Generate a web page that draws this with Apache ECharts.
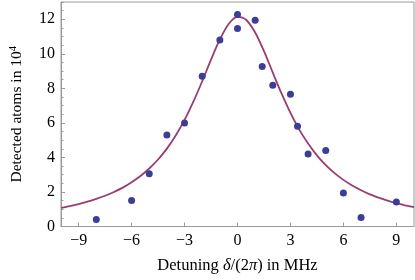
<!DOCTYPE html>
<html>
<head>
<meta charset="utf-8">
<script src="https://cdn.jsdelivr.net/npm/echarts@6/dist/echarts.min.js"></script>
<style>html,body{margin:0;padding:0;background:#fff}#c{width:415px;height:280px}</style>
</head>
<body>
<div id="c"></div>
<script>
// Measured points
var detuning = [-8, -6, -5, -4, -3, -2, -1, 0, 0, 1, 1.4, 2, 3, 3.4, 4, 5, 6, 7, 9];
var atoms = [0.4, 1.5, 3.05, 5.3, 6.0, 8.7, 10.8, 12.28, 11.46, 11.95, 9.27, 8.18, 7.66, 5.8, 4.2, 4.4, 1.94, 0.52, 1.42];
// Fitted curve
var curveX = [-10,-9.5,-9,-8.5,-8,-7.5,-7,-6.5,-6,-5.5,-5,-4.5,-4,-3.5,-3,-2.5,-2,-1.5,-1,-0.5,0,0.5,1,1.5,2,2.5,3,3.5,4,4.5,5,5.5,6,6.5,7,7.5,8,8.5,9,9.5,10];
var curveY = [1.08,1.18,1.30,1.44,1.60,1.78,2.00,2.25,2.56,2.92,3.36,3.88,4.51,5.27,6.17,7.23,8.41,9.66,10.83,11.73,12.14,11.96,11.23,10.15,8.91,7.69,6.58,5.61,4.80,4.12,3.55,3.09,2.70,2.37,2.10,1.86,1.67,1.50,1.35,1.23,1.12];
var xTicks = [-9, -6, -3, 0, 3, 6, 9];
var yTicks = [0, 2, 4, 6, 8, 10, 12];
var yMinor = [];
for (var v = 0; v <= 13; v += 0.5) { if (v % 2 !== 0) yMinor.push(v); }

var serif = 'Liberation Serif';
var chart = echarts.init(document.getElementById('c'), null, {renderer: 'canvas'});
var fmt = function (v) { return v < 0 ? '\u2212' + (-v) : String(v); };

chart.setOption({
  animation: false,
  grid: {left: 52, right: 1, top: 2, bottom: 53.5, show: true, borderColor: '#9a9a9a', borderWidth: 1, backgroundColor: 'transparent'},
  xAxis: [{
    type: 'value', min: -10, max: 10,
    axisLine: {show: true, onZero: false, lineStyle: {color: '#9a9a9a', width: 1}},
    axisTick: {show: true, inside: true, length: 4, customValues: xTicks, lineStyle: {color: '#9a9a9a'}},
    axisLabel: {customValues: xTicks, formatter: fmt, fontFamily: serif, fontSize: 16, color: '#000', margin: 6},
    splitLine: {show: false},
    name: 'Detuning {it|δ}/(2{it|π}) in MHz',
    nameLocation: 'middle', nameGap: 31,
    nameTextStyle: {fontFamily: serif, fontSize: 16.5, color: '#000',
      rich: {it: {fontFamily: serif, fontStyle: 'italic', fontSize: 16.5, color: '#000'}}}
  }],
  yAxis: [{
    type: 'value', min: 0, max: 13,
    axisLine: {show: true, onZero: false, lineStyle: {color: '#9a9a9a', width: 1}},
    axisTick: {show: true, inside: true, length: 4, customValues: yTicks, lineStyle: {color: '#9a9a9a'}},
    axisLabel: {customValues: yTicks, formatter: fmt, fontFamily: serif, fontSize: 16, color: '#000', margin: 6},
    splitLine: {show: false},
    name: 'Detected atoms in 10{sup|4}',
    nameLocation: 'middle', nameGap: 35,
    nameTextStyle: {fontFamily: serif, fontSize: 15.5, color: '#000',
      rich: {sup: {fontFamily: serif, fontSize: 10.5, color: '#000', padding: [0, 0, 7, 0]}}}
  }, {
    type: 'value', min: 0, max: 13, position: 'left', offset: 0,
    axisLine: {show: false, onZero: false},
    axisTick: {show: true, inside: true, length: 2.5, customValues: yMinor, lineStyle: {color: '#9a9a9a'}},
    axisLabel: {show: false},
    splitLine: {show: false}
  }],
  series: [{
    type: 'line', smooth: 0.3, showSymbol: false, symbol: 'none',
    data: curveX.map(function (x, i) { return [x, curveY[i]]; }),
    lineStyle: {color: '#993d71', width: 1.8},
    z: 2
  }, {
    type: 'scatter', symbolSize: 7,
    data: detuning.map(function (x, i) { return [x, atoms[i]]; }),
    itemStyle: {color: '#3d3d99', opacity: 1},
    z: 3
  }]
});
</script>
</body>
</html>
